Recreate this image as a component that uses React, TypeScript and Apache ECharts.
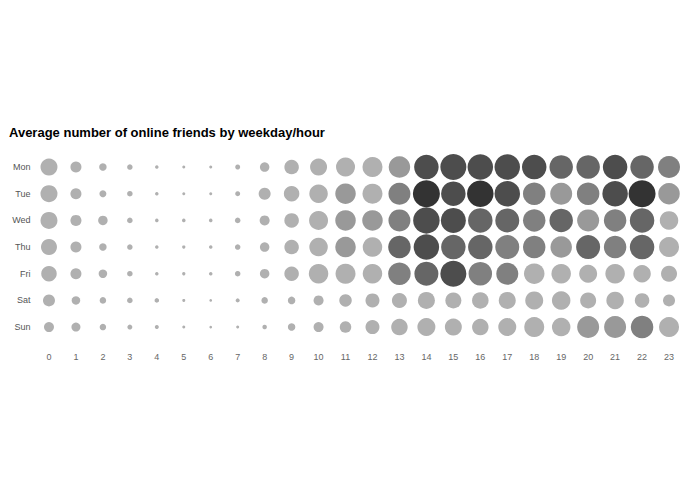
import { useEffect, useRef } from "react";
import * as echarts from "echarts";

const hours = ["0", "1", "2", "3", "4", "5", "6", "7", "8", "9", "10", "11", "12", "13", "14", "15", "16", "17", "18", "19", "20", "21", "22", "23"];
const days = ["Mon", "Tue", "Wed", "Thu", "Fri", "Sat", "Sun"];

// average online friends per day, one value per hour (drawn as the dot size)
const mon = [17, 11, 7.5, 5.5, 3.5, 3, 3, 5, 9.5, 14.5, 17, 19, 20, 21.5, 24.5, 26, 25.5, 25.5, 24.5, 23.5, 23.5, 24.5, 23.5, 22];
const tue = [17, 11, 7, 5.5, 3.5, 3, 3, 5, 12, 15.5, 18.5, 20.5, 20, 22, 27, 24.5, 26.5, 25.5, 22.5, 22, 22.5, 25.5, 27, 21.5];
const wed = [17, 11, 9.5, 5.5, 3.5, 3.5, 3.5, 5.5, 10, 14.5, 19, 20.5, 20.5, 22, 26.5, 25, 24.5, 24, 22.5, 23.5, 22, 22.5, 24.5, 18.5];
const thu = [16, 11, 7.5, 5.5, 3.5, 3.3, 3.5, 5.5, 9.5, 14.5, 18.5, 20.5, 19.5, 22.5, 25.5, 24.5, 24.5, 24, 22.5, 21.5, 24, 22.5, 24.5, 20];
const fri = [15.5, 11, 8.5, 5.5, 3.5, 3.3, 3.5, 5.5, 9.5, 14.5, 19.5, 20, 19.5, 22.5, 24, 26, 23.5, 22, 20.5, 19.5, 18, 19.5, 17.5, 16];
const sat = [12, 8.5, 6.5, 5.5, 4.5, 3, 2.7, 4, 6.5, 7.5, 10, 12.5, 14, 15, 17, 16, 16.5, 17, 18, 18.5, 16, 17.5, 14.5, 12];
const sun = [10, 9, 6.5, 5, 4, 3, 2.7, 3, 4.5, 7.5, 10, 11.5, 14, 16.5, 18, 17, 16.5, 18, 20, 18.5, 22, 22, 22.5, 20];
const friends = [mon, tue, wed, thu, fri, sat, sun];

// activity level per cell (drawn as the dot shade, 0 = lightest)
const monLevel = [0, 0, 0, 0, 0, 0, 0, 0, 0, 0, 0, 0, 0, 1, 4, 4, 4, 4, 4, 3, 3, 4, 3, 2];
const tueLevel = [0, 0, 0, 0, 0, 0, 0, 0, 0, 0, 0, 1, 0, 2, 5, 4, 5, 4, 2, 1, 2, 4, 5, 1];
const wedLevel = [0, 0, 0, 0, 0, 0, 0, 0, 0, 0, 0, 1, 1, 2, 4, 4, 3, 3, 2, 3, 1, 2, 3, 0];
const thuLevel = [0, 0, 0, 0, 0, 0, 0, 0, 0, 0, 0, 1, 0, 3, 4, 3, 3, 2, 2, 1, 3, 2, 3, 0];
const friLevel = [0, 0, 0, 0, 0, 0, 0, 0, 0, 0, 0, 0, 0, 2, 3, 4, 2, 2, 0, 0, 0, 0, 0, 0];
const satLevel = [0, 0, 0, 0, 0, 0, 0, 0, 0, 0, 0, 0, 0, 0, 0, 0, 0, 0, 0, 0, 0, 0, 0, 0];
const sunLevel = [0, 0, 0, 0, 0, 0, 0, 0, 0, 0, 0, 0, 0, 0, 0, 0, 0, 0, 0, 0, 1, 1, 2, 0];
const levels = [monLevel, tueLevel, wedLevel, thuLevel, friLevel, satLevel, sunLevel];

const shades = ["#b0b0b0", "#999999", "#808080", "#666666", "#4d4d4d", "#333333"];

export default function App() {
  const nodeRef = useRef<HTMLDivElement | null>(null);

  useEffect(() => {
    document.body.style.margin = "0";
    if (!nodeRef.current) return;
    const chart = echarts.init(nodeRef.current, undefined, { renderer: "svg" });

    const data: number[][] = [];
    friends.forEach((row, d) => {
      row.forEach((v, h) => data.push([h, d, v, levels[d][h]]));
    });

    chart.setOption({
      animation: false,
      title: {
        text: "Average number of online friends by weekday/hour",
        left: 4,
        top: 121,
        textStyle: { fontFamily: "Liberation Sans", fontSize: 13, fontWeight: "bold", color: "#000" },
      },
      grid: { left: 35.5, top: 153.7, width: 647, height: 186.7 },
      xAxis: {
        type: "category",
        data: hours,
        axisLine: { show: false },
        axisTick: { show: false },
        splitLine: { show: false },
        axisLabel: { color: "#666", fontSize: 9, fontFamily: "Liberation Sans", margin: 12 },
      },
      yAxis: {
        type: "category",
        data: days,
        inverse: true,
        axisLine: { show: false },
        axisTick: { show: false },
        splitLine: { show: false },
        axisLabel: { color: "#555", fontSize: 9, fontFamily: "Liberation Sans", margin: 5 },
      },
      series: [
        {
          type: "scatter",
          data,
          symbol: "circle",
          symbolSize: (val: number[]) => val[2],
          itemStyle: {
            opacity: 1,
            color: (p: { value: number[] }) => shades[p.value[3]],
          },
        },
      ],
    });

    return () => chart.dispose();
  }, []);

  return <div ref={nodeRef} style={{ width: 695, height: 494 }} />;
}
